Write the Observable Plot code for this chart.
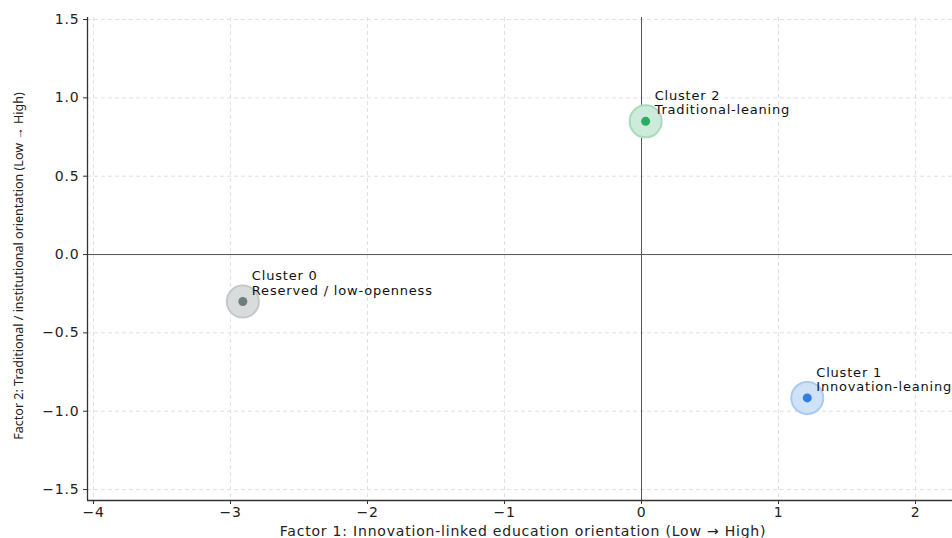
<!DOCTYPE html>
<html>
<head>
<meta charset="utf-8">
<script src="https://cdn.jsdelivr.net/npm/d3@7"></script>
<script src="https://cdn.jsdelivr.net/npm/@observablehq/plot@0.6"></script>
<style>
  html, body { margin: 0; padding: 0; background: #fff; }
  #chart svg { display: block; letter-spacing: 0.8px; }
  #chart svg text.ylab { letter-spacing: 0; }
</style>
</head>
<body>
<div id="chart"></div>
<script>
const clusters = ["Cluster 0", "Cluster 1", "Cluster 2"];
const descriptions = ["Reserved / low-openness", "Innovation-leaning", "Traditional-leaning"];
const factor1 = [-2.91, 1.21, 0.03];
const factor2 = [-0.30, -0.915, 0.85];
const dotColors = ["#6f7d7d", "#2f80e0", "#27ae60"];
const haloFill = ["#d9dcdc", "#cfe2f8", "#cdeadb"];
const haloStroke = ["#c3c8c8", "#a9cbf2", "#a8dcbf"];
const xTicks = [-4, -3, -2, -1, 0, 1, 2];
const yTicks = [-1.5, -1.0, -0.5, 0.0, 0.5, 1.0, 1.5];

const data = clusters.map((c, i) => ({
  x: factor1[i], y: factor2[i],
  label: c + "\n" + descriptions[i],
  dot: dotColors[i], hf: haloFill[i], hs: haloStroke[i]
}));

const fmtY = d => d3.format(".1f")(d).replace("-", "\u2212");
const fmtX = d => String(d).replace("-", "\u2212");
const font = "DejaVu Sans, sans-serif";

const chart = Plot.plot({
  width: 952,
  height: 538,
  marginLeft: 87,
  marginRight: 0,
  marginTop: 17,
  marginBottom: 38,
  style: {fontFamily: font, fontSize: "14px", color: "#222", background: "#fff", letterSpacing: "0.8px"},
  x: {domain: [-4.044, 2.27], ticks: xTicks, tickFormat: fmtX},
  y: {domain: [-1.57, 1.513], ticks: yTicks, tickFormat: fmtY},
  marks: [
    Plot.gridX(xTicks, {stroke: "#d8d8d8", strokeOpacity: 1, strokeDasharray: "4,3", strokeWidth: 0.8}),
    Plot.gridY(yTicks, {stroke: "#d8d8d8", strokeOpacity: 1, strokeDasharray: "4,3", strokeWidth: 0.8}),
    Plot.ruleX([0], {stroke: "#555", strokeWidth: 1}),
    Plot.ruleY([0], {stroke: "#555", strokeWidth: 1}),
    Plot.axisX({ticks: xTicks, tickFormat: fmtX, tickSize: 4, tickPadding: 3, fontSize: 14, stroke: "#333", fill: "#222", label: null}),
    Plot.axisY({ticks: yTicks, tickFormat: fmtY, tickSize: 4, tickPadding: 4, fontSize: 14, stroke: "#333", fill: "#222", label: null}),
    Plot.ruleX([-4.044], {stroke: "#333", strokeWidth: 1.3}),
    Plot.ruleY([-1.57], {stroke: "#333", strokeWidth: 1.3}),
    Plot.dot(data, {x: "x", y: "y", r: 16, fill: "hf", stroke: "hs", strokeWidth: 2}),
    Plot.dot(data, {x: "x", y: "y", r: 4.5, fill: "dot", stroke: "none"}),
    Plot.text(data, {x: "x", y: "y", text: "label", textAnchor: "start", lineAnchor: "bottom", dx: 9, dy: -7, lineHeight: 1.1, fontSize: 13, fill: "#111"}),
    Plot.text(["Factor 1: Innovation-linked education orientation (Low \u2192 High)"], {frameAnchor: "bottom", textAnchor: "middle", dx: 3, dy: 35, fontSize: 14, fill: "#222", lineAnchor: "bottom"}),
    Plot.text(["Factor 2: Traditional / institutional orientation (Low \u2192 High)"], {frameAnchor: "left", textAnchor: "middle", dx: -69, dy: 7, rotate: -90, fontSize: 12.5, fill: "#222", fontFamily: "Noto Sans, sans-serif", className: "ylab"})
  ]
});
document.getElementById("chart").append(chart);
d3.select(chart).selectAll("text").filter(function() { return this.textContent.startsWith("Factor 2"); }).style("letter-spacing", "0px");
</script>
</body>
</html>
